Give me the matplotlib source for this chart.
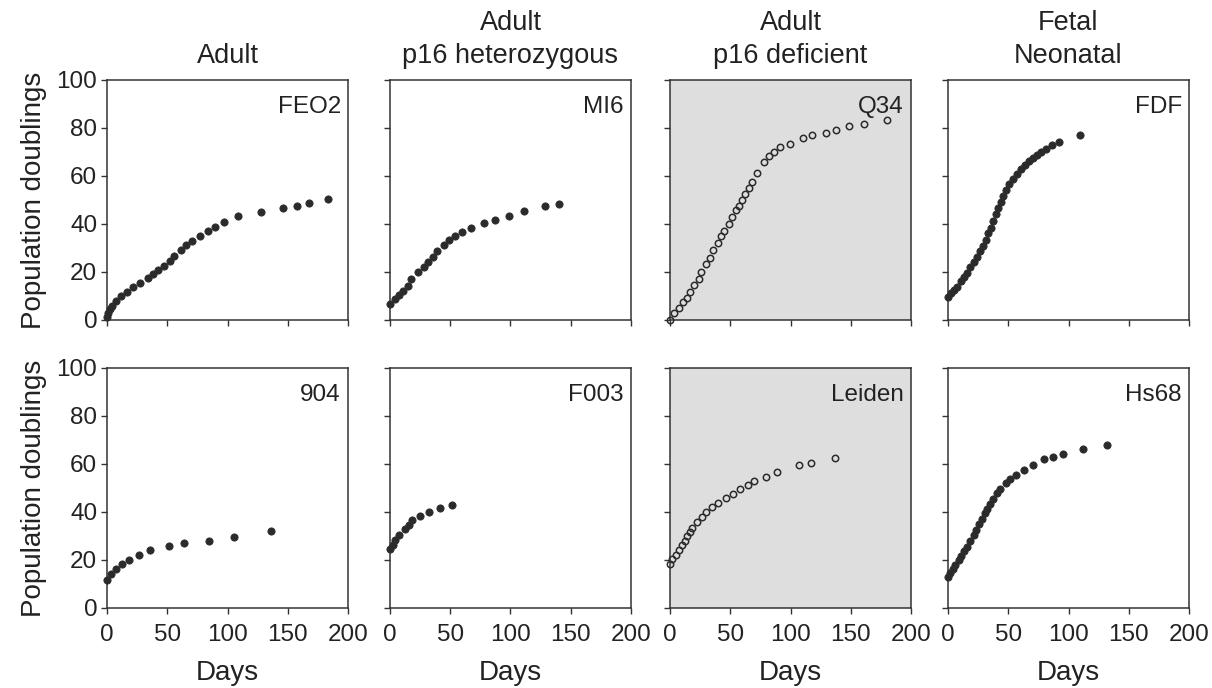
import matplotlib
matplotlib.use("Agg")
import matplotlib.pyplot as plt

plt.rcParams['font.family'] = ['Liberation Sans', 'DejaVu Sans']

# ---- data ----
titles = ["Adult", "Adult\np16 heterozygous", "Adult\np16 deficient", "Fetal\nNeonatal"]
names = [["FEO2", "MI6", "Q34", "FDF"], ["904", "F003", "Leiden", "Hs68"]]

feo2_days = [0, 1, 2.5, 4, 7.5, 11.5, 16.5, 21.5, 27, 34, 38, 42, 47, 52, 56, 61, 65.5, 70.5,
             77.5, 84, 90, 97, 109, 128, 146, 158, 168, 183]
feo2_pd = [1.3, 3, 4.5, 6, 8, 10, 11.8, 13.8, 15.5, 17.5, 19.2, 20.8, 22.5, 24.5, 26.7, 29, 31.2,
           33, 35, 37, 38.8, 40.8, 43.3, 45, 46.5, 47.6, 48.6, 50.5]

mi6_days = [0, 4, 7.7, 11, 14.6, 17.7, 22.9, 28, 31.2, 35.9, 39.4, 44.4, 49, 54, 60, 67.5, 78.3,
            87.4, 98.8, 111.4, 129, 140]
mi6_pd = [6.7, 8.6, 10.4, 12.2, 14.2, 17.2, 20.1, 22.2, 24.3, 26.4, 28.8, 31.3, 33.3, 35, 36.8,
          38.2, 40.6, 41.7, 43.3, 45.6, 47.6, 48.3]

q34_days = [0, 3.6, 7.7, 11, 13.8, 16.6, 19.9, 23.8, 26, 29.9, 33.2, 35.7, 40.1, 42.1, 45.1, 48.7,
            51.7, 54.8, 57.5, 60, 62.5, 65.3, 68.3, 72.4, 78.3, 82.4, 86.3, 91.6, 99.9, 110.1,
            117.9, 129.5, 137.5, 148.8, 160.7, 180.4]
q34_pd = [0, 2.8, 4.9, 7.6, 9, 11.7, 14.4, 17.1, 20, 23.3, 25.7, 29, 32.1, 35, 37.2, 40, 43.1, 45.7,
          47.6, 50, 52.5, 55.1, 57.5, 61.4, 65.7, 68.3, 69.9, 71.9, 73.5, 75.7, 76.9, 77.9, 79.3,
          81, 81.7, 83.3]

fdf_days = [0.3, 2.2, 5, 7.8, 10.8, 13.3, 15.5, 18.6, 21.3, 23.8, 26.6, 29.1, 31.6, 33.5, 35.5,
            37.7, 39.6, 41.6, 43.8, 46, 48.2, 51, 53.7, 57.1, 60.7, 64, 67, 70.4, 73.7, 77, 81.2,
            86.1, 92.5, 109.7]
fdf_pd = [9.4, 11.1, 12.5, 13.9, 16.1, 17.8, 19.7, 21.9, 24.3, 26.4, 28.6, 31, 33.3, 36.1, 38.5,
          41.3, 44, 46.5, 49.3, 51.8, 54.2, 56.5, 58.9, 60.8, 62.8, 64.4, 66.1, 67.6, 68.8, 70,
          71.1, 72.8, 74.3, 77.1]

s904_days = [0, 3, 7.4, 12.4, 18.2, 26.7, 35.5, 51.2, 63.9, 84.3, 105, 135.8]
s904_pd = [11.7, 14.3, 16.4, 18.2, 20, 22.2, 24, 25.8, 26.9, 27.9, 29.7, 31.9]

f003_days = [0, 2.2, 4.5, 7.8, 12.5, 15.9, 18.4, 25, 32.3, 41.4, 51.5]
f003_pd = [24.6, 26.3, 28.3, 30.6, 32.8, 34.7, 36.7, 38.5, 40.1, 41.8, 43.1]

leiden_days = [0, 1.9, 4.7, 7.5, 10, 12.2, 14.4, 16.3, 18.5, 22.4, 26.6, 29.9, 35.1, 39.6, 46.5,
               52.3, 58.1, 64.7, 70, 79.4, 88.5, 107.1, 116.7, 136.9]
leiden_pd = [18.3, 20.3, 21.9, 24, 26.1, 27.9, 29.9, 31.7, 33.5, 35.8, 37.8, 40, 41.9, 43.9, 46,
             47.6, 49.6, 51.4, 53.1, 54.7, 56.5, 59.4, 60.3, 62.5]

hs68_days = [0, 1.9, 3.9, 6.1, 8.9, 11.1, 13.6, 15.8, 18.6, 21.4, 23.6, 26.1, 28.6, 30.6, 32.5,
             34.7, 37.5, 40.3, 42.8, 48.1, 51.4, 56.7, 63.1, 70.3, 79.7, 87.2, 95.8, 112.2, 132.2]
hs68_pd = [13.1, 14.6, 16.2, 17.8, 19.8, 21.6, 23.6, 25.6, 28, 30.5, 32.5, 34.8, 37.2, 39.6, 41.4,
           43.4, 45.5, 47.8, 49.6, 52.1, 53.8, 55.4, 57.4, 59.7, 62.1, 62.8, 64.3, 66.1, 67.9]

series = [[(feo2_days, feo2_pd), (mi6_days, mi6_pd), (q34_days, q34_pd), (fdf_days, fdf_pd)],
          [(s904_days, s904_pd), (f003_days, f003_pd), (leiden_days, leiden_pd), (hs68_days, hs68_pd)]]
open_cols = [2]

x_ticks = [0, 50, 100, 150, 200]
y_ticks = [0, 20, 40, 60, 80, 100]

# ---- layout ----
W, H = 1212, 688
fig = plt.figure(figsize=(W / 100, H / 100), dpi=100)
col_left = [107, 390, 670, 948]
col_w = 241
row_top = [80, 368]
row_h = 240

txt = '#222222'
dot = '#2b2b2b'
for r in range(2):
    for c in range(4):
        ax = fig.add_axes([col_left[c] / W, 1 - (row_top[r] + row_h) / H, col_w / W, row_h / H])
        d, p = series[r][c]
        if c in open_cols:
            ax.set_facecolor('#dedede')
            ax.plot(d, p, linestyle='none', marker='o', markersize=4.6, markerfacecolor='none',
                    markeredgecolor=dot, markeredgewidth=1.1, clip_on=False, zorder=3)
        else:
            ax.plot(d, p, linestyle='none', marker='o', markersize=5.2, markerfacecolor=dot,
                    markeredgecolor=dot, markeredgewidth=0.6, clip_on=False, zorder=3)
        ax.set_xlim(0, 200)
        ax.set_ylim(0, 100)
        ax.set_xticks(x_ticks)
        ax.set_yticks(y_ticks)
        ax.tick_params(direction='out', length=4, width=1.0, colors='#333333',
                       labelsize=17.5, labelcolor=txt, pad=3)
        ax.tick_params(axis='x', pad=7.5)
        for s in ax.spines.values():
            s.set_linewidth(1.1)
            s.set_color('#333333')
        if r == 0:
            ax.tick_params(labelbottom=False)
            ax.set_title(titles[c], fontsize=19.5, color=txt, pad=12, linespacing=1.37)
        else:
            ax.set_xlabel("Days", fontsize=20, color=txt, labelpad=10)
        if c == 0:
            ax.set_ylabel("Population doublings", fontsize=20, color=txt, labelpad=7)
        else:
            ax.tick_params(labelleft=False)
        ax.text(0.97, 0.935, names[r][c], transform=ax.transAxes, ha='right', va='top',
                fontsize=17.5, color=txt)

fig.savefig("out.png", dpi=100)
